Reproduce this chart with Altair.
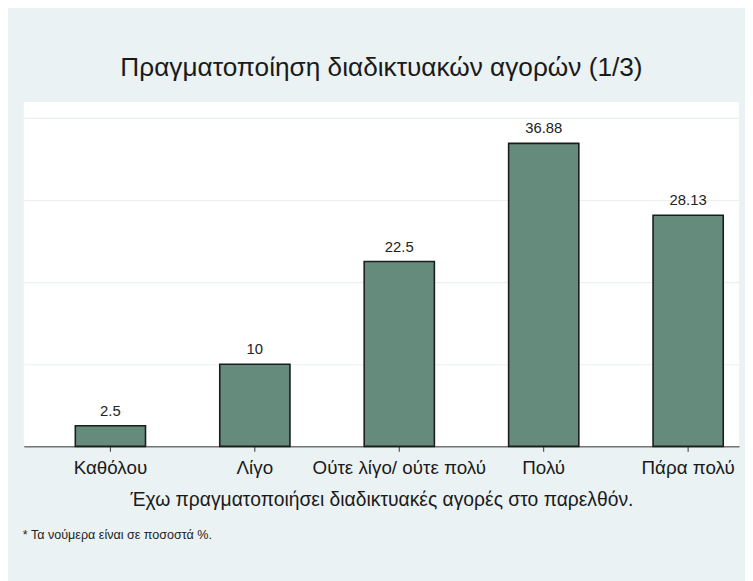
import altair as alt
import pandas as pd

categories = ["Καθόλου", "Λίγο", "Ούτε λίγο/ ούτε πολύ", "Πολύ", "Πάρα πολύ"]
values = [2.5, 10, 22.5, 36.88, 28.13]
value_labels = ["2.5", "10", "22.5", "36.88", "28.13"]
y_ticks = [0, 10, 20, 30, 40]

df = pd.DataFrame({"cat": categories, "val": values, "lab": value_labels})

FONT = "Liberation Sans"
BAR = "#658B7D"

x = alt.X(
    "cat:N",
    sort=categories,
    scale=alt.Scale(paddingInner=0.514, paddingOuter=0.233, align=0.765),
    axis=alt.Axis(
        title="Έχω πραγματοποιήσει διαδικτυακές αγορές στο παρελθόν.",
        labelAngle=0,
        labelFontSize=19,
        labelColor="#1a1a1a",
        labelFont=FONT,
        labelPadding=7,
        tickSize=5,
        tickColor="#333333",
        domainColor="#333333",
        domainWidth=1,
        titleFont=FONT,
        titleFontSize=19.5,
        titleFontWeight="normal",
        titleColor="#1a1a1a",
        titlePadding=14,
    ),
)
y = alt.Y(
    "val:Q",
    scale=alt.Scale(domain=[0, 41.9], nice=False),
    axis=alt.Axis(
        title=None,
        labels=False,
        ticks=False,
        domain=False,
        values=y_ticks,
        grid=True,
        gridColor="#EAF0F0",
        gridWidth=1.2,
    ),
)

bars = alt.Chart(df).mark_bar(
    color=BAR, stroke="#1c1c1c", strokeWidth=1.6
).encode(x=x, y=y)

labels = alt.Chart(df).mark_text(
    baseline="bottom", dy=-7, fontSize=15, font=FONT, color="#222222"
).encode(x=alt.X("cat:N", sort=categories), y="val:Q", text="lab:N")

note = alt.Chart(pd.DataFrame({"t": ["* Τα νούμερα είναι σε ποσοστά %."]})).mark_text(
    align="left", baseline="middle", fontSize=12.7, font=FONT, color="#222222"
).encode(x=alt.value(-1), y=alt.value(438), text="t:N")

chart = (
    alt.layer(bars, labels, note)
    .properties(
        width=723,
        height=348,
        padding={"left": 16, "top": 92, "right": 6, "bottom": 133},
        autosize=alt.AutoSizeParams(type="none"),
        background="#EAF2F3",
        title=alt.Title(
            "Πραγματοποίηση διαδικτυακών αγορών (1/3)",
            font=FONT,
            fontSize=26.5,
            fontWeight="normal",
            color="#1a1a1a",
            anchor="middle",
            offset=21,
        ),
    )
    .configure_view(fill="white", stroke=None)
)

chart.save("out.html", embed_options={"renderer": "svg", "actions": False})
